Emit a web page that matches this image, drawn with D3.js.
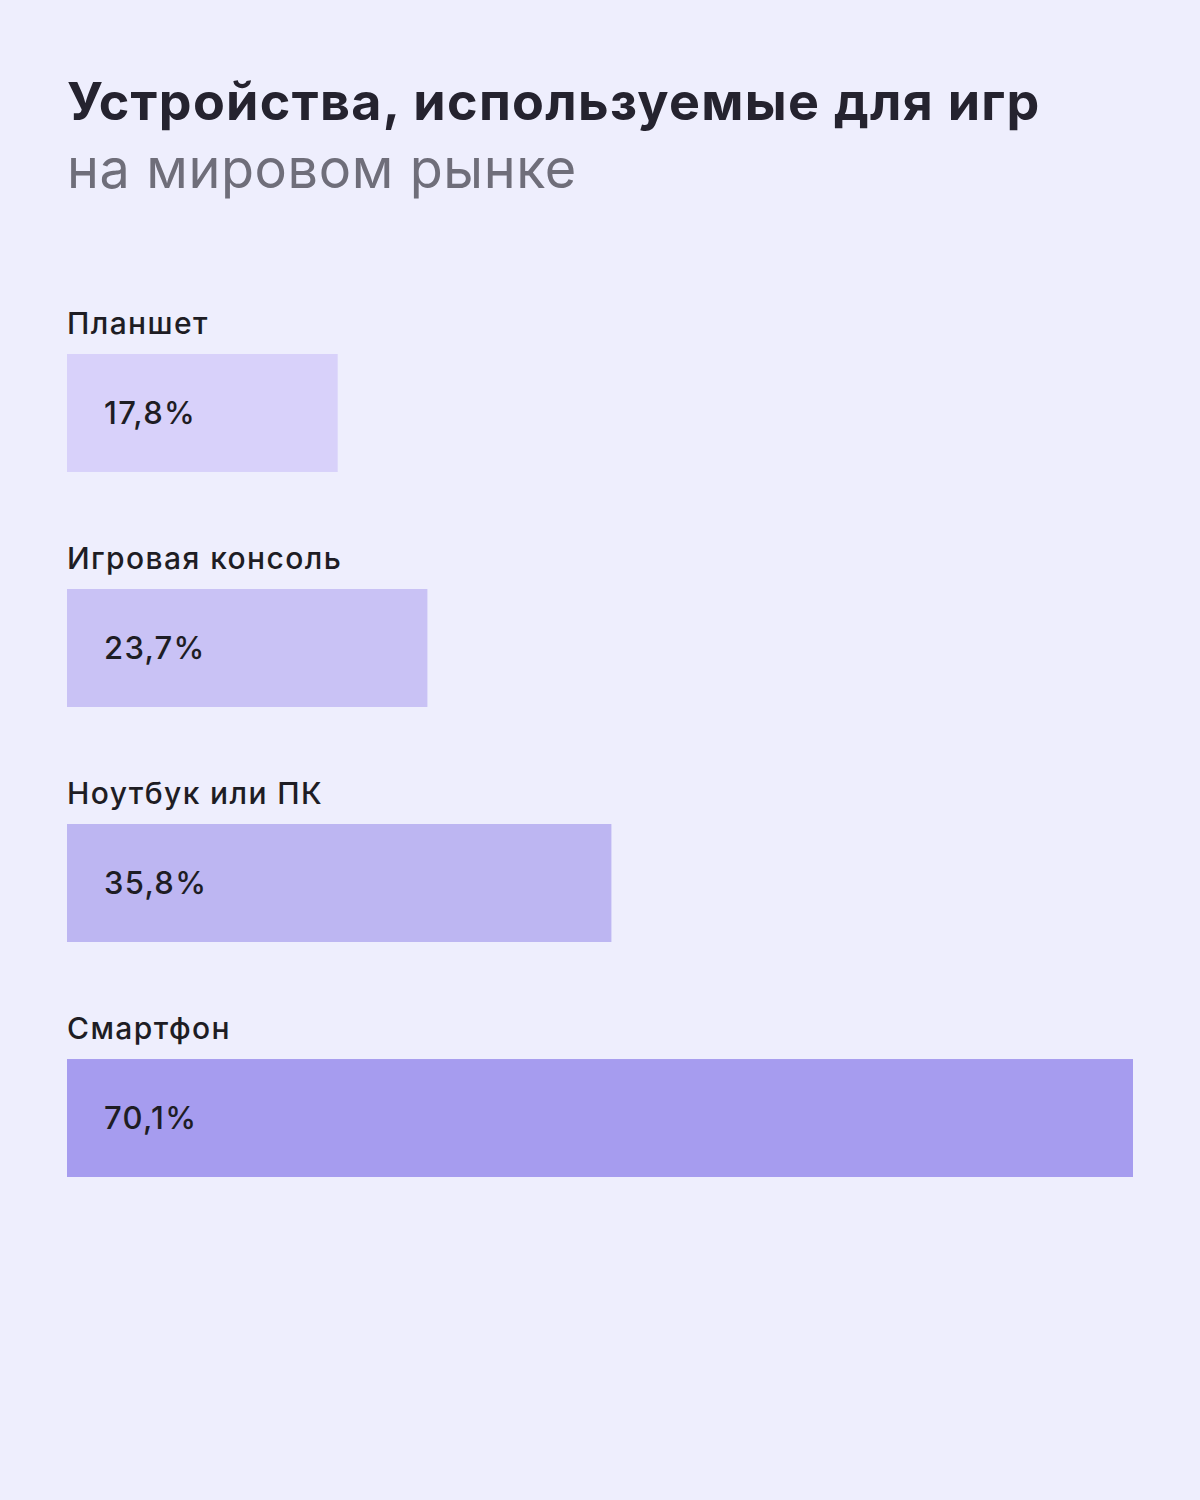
<!DOCTYPE html>
<html><head><meta charset="utf-8">
<script src="https://cdn.jsdelivr.net/npm/d3@7"></script>
<style>html,body{margin:0;padding:0;background:#EEEEFD;}</style>
</head><body>
<svg id="c" width="1200" height="1500"></svg>
<script>
const categories = ["Планшет", "Игровая консоль", "Ноутбук или ПК", "Смартфон"];
const values = [17.8, 23.7, 35.8, 70.1];
const valueLabels = ["17,8%", "23,7%", "35,8%", "70,1%"];
const barColors = ["#D8D1FA", "#C9C2F5", "#BDB6F2", "#A69CEF"];
const titleText = "Устройства, используемые для игр";
const subtitleText = "на мировом рынке";

const svg = d3.select("#c");
svg.append("rect").attr("width",1200).attr("height",1500).attr("fill","#EEEEFD");
const font = "Inter, 'Noto Sans', sans-serif";

svg.append("text").attr("x",67).attr("y",120).attr("font-family",font)
  .attr("font-weight",700).attr("font-size",52).attr("letter-spacing",1.3)
  .attr("fill","#25232F").text(titleText);
svg.append("text").attr("x",67).attr("y",188).attr("font-family",font)
  .attr("font-weight",400).attr("font-size",54).attr("letter-spacing",0.6)
  .attr("fill","#6F6E7A").text(subtitleText);

const x = d3.scaleLinear().domain([0, 70.1]).range([67, 1133]);
const y = d3.scaleBand().domain(categories).range([354, 1177]).paddingInner(0.498).paddingOuter(0);

const data = categories.map((c,i)=>({c, v:values[i], l:valueLabels[i], col:barColors[i]}));
const g = svg.append("g");
g.selectAll("rect.bar").data(data).join("rect").attr("class","bar")
  .attr("x", x(0)).attr("y", d=>y(d.c)).attr("width", d=>x(d.v)-x(0))
  .attr("height", y.bandwidth()).attr("fill", d=>d.col);
g.selectAll("text.cat").data(data).join("text").attr("class","cat")
  .attr("x", x(0)).attr("y", d=>y(d.c)-20).attr("font-family",font).attr("font-weight",500)
  .attr("font-size",30).attr("letter-spacing",1.4).attr("fill","#1E1D24").text(d=>d.c);
g.selectAll("text.val").data(data).join("text").attr("class","val")
  .attr("x", x(0)+37).attr("y", d=>y(d.c)+y.bandwidth()/2+11).attr("font-family",font).attr("font-weight",500)
  .attr("font-size",31).attr("letter-spacing",1.3).attr("fill","#1E1D24").text(d=>d.l);
</script>
</body></html>
